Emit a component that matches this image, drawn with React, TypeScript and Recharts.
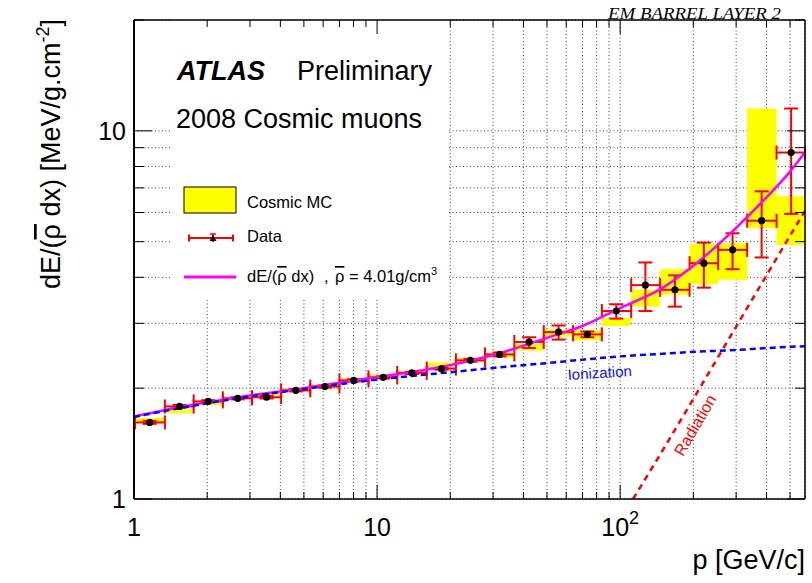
import React from 'react';
import {
  ComposedChart,
  XAxis,
  YAxis,
  CartesianGrid,
  Scatter,
  ErrorBar,
  Line,
  ReferenceArea,
} from 'recharts';

const FONT = '"Liberation Sans", Arial, Helvetica, sans-serif';

// ---- data ----
const binLow = [1.01, 1.34, 1.76, 2.32, 3.06, 4.03, 5.31, 7.0, 9.22, 12.1, 16.0, 21.1, 27.8, 36.7, 48.5, 64.0, 84.1, 111, 146, 193, 253, 333, 440];
const binHigh = [1.34, 1.76, 2.32, 3.06, 4.03, 5.31, 7.0, 9.22, 12.1, 16.0, 21.1, 27.8, 36.7, 48.5, 64.0, 84.1, 111, 146, 193, 253, 333, 440, 576];
const pCenter = [1.16, 1.54, 2.02, 2.67, 3.51, 4.63, 6.1, 8.02, 10.6, 13.9, 18.4, 24.2, 31.9, 42.2, 55.8, 73.3, 96.4, 127, 168, 221, 290, 382, 505];
const dataV = [1.614, 1.784, 1.841, 1.877, 1.89, 1.973, 2.02, 2.1, 2.14, 2.2, 2.26, 2.38, 2.47, 2.67, 2.84, 2.8, 3.24, 3.81, 3.7, 4.37, 4.75, 5.7, 8.73];
const dataLo = [1.6, 1.77, 1.83, 1.865, 1.875, 1.96, 2.005, 2.085, 2.125, 2.185, 2.245, 2.36, 2.44, 2.57, 2.71, 2.75, 3.09, 3.24, 3.33, 3.75, 4.21, 4.53, 5.95];
const dataHi = [1.63, 1.8, 1.855, 1.89, 1.905, 1.99, 2.035, 2.115, 2.155, 2.215, 2.275, 2.4, 2.5, 2.75, 2.96, 2.85, 3.38, 4.39, 4.05, 4.97, 5.27, 6.85, 11.5];
const mcLo = [1.61, 1.71, 1.8, 1.87, 1.91, 1.96, 2.01, 2.09, 2.14, 2.19, 2.3, 2.36, 2.42, 2.53, 2.76, 2.7, 2.95, 3.33, 3.59, 3.83, 3.94, 5.44, 4.9];
const mcHi = [1.66, 1.75, 1.84, 1.9, 1.94, 2.0, 2.05, 2.13, 2.18, 2.23, 2.35, 2.42, 2.49, 2.64, 2.89, 2.88, 3.1, 3.7, 4.21, 4.93, 4.95, 11.5, 6.64];

const fitP = [1, 1.5, 2, 3, 5, 7, 10, 15, 20, 30, 50, 70, 100, 150, 200, 300, 400, 500, 576];
const fitV = [1.675, 1.77, 1.83, 1.91, 2.0, 2.07, 2.145, 2.23, 2.31, 2.46, 2.74, 2.95, 3.3, 3.75, 4.3, 5.45, 6.6, 7.75, 8.75];
const ionP = [1, 1.5, 2, 3, 5, 7, 10, 15, 20, 30, 50, 70, 100, 150, 200, 300, 400, 500, 576];
const ionV = [1.67, 1.76, 1.82, 1.9, 1.99, 2.05, 2.11, 2.17, 2.21, 2.27, 2.34, 2.39, 2.44, 2.48, 2.51, 2.54, 2.57, 2.59, 2.6];
const radP = [113, 150, 200, 300, 400, 500, 576];
const radV = [1.0, 1.36, 1.87, 2.94, 4.05, 5.19, 6.06];

const xTicks = [1, 2, 3, 4, 5, 6, 7, 8, 9, 10, 20, 30, 40, 50, 60, 70, 80, 90, 100, 200, 300, 400, 500];
const yTicks = [1, 2, 3, 4, 5, 6, 7, 8, 9, 10, 20];
const xDomain: [number, number] = [1, 576];
const yDomain: [number, number] = [1, 20];

const isDecade = (v: number) => v === 1 || v === 10 || v === 100;

function BottomTick(props: any) {
  const { x, y, payload } = props;
  const v = payload.value;
  const len = isDecade(v) ? 14 : 7;
  let label: any = null;
  const common = { textAnchor: 'middle' as const, fontFamily: FONT, fontSize: 25, fill: '#000' };
  if (v === 1) label = <text x={x} y={y + 37} {...common}>1</text>;
  if (v === 10) label = <text x={x} y={y + 37} {...common}>10</text>;
  if (v === 100)
    label = (
      <text x={x} y={y + 37} {...common}>
        10<tspan dy={-12} fontSize={18}>2</tspan>
      </text>
    );
  return (
    <g>
      <line x1={x} x2={x} y1={y} y2={y - len} stroke="#000" strokeWidth={1} />
      {label}
    </g>
  );
}

function TopTick(props: any) {
  const { x, y, payload } = props;
  const len = isDecade(payload.value) ? 14 : 7;
  return <line x1={x} x2={x} y1={y} y2={y + len} stroke="#000" strokeWidth={1} />;
}

function LeftTick(props: any) {
  const { x, y, payload } = props;
  const v = payload.value;
  const len = isDecade(v) ? 18 : 10;
  const label =
    v === 1 || v === 10 ? (
      <text x={x - 8} y={y + 9} textAnchor="end" fontFamily={FONT} fontSize={25} fill="#000">
        {String(v)}
      </text>
    ) : null;
  return (
    <g>
      <line x1={x} x2={x + len} y1={y} y2={y} stroke="#000" strokeWidth={1} />
      {label}
    </g>
  );
}

function RightTick(props: any) {
  const { x, y, payload } = props;
  const len = isDecade(payload.value) ? 18 : 10;
  return <line x1={x} x2={x - len} y1={y} y2={y} stroke="#000" strokeWidth={1} />;
}

const Dot = (props: any) => <circle cx={props.cx} cy={props.cy} r={3.6} fill="#000" />;

const Rho = () => <tspan style={{ textDecoration: 'overline' }}>ρ</tspan>;

export default function App() {
  const pts = pCenter.map((p, i) => ({
    p,
    v: dataV[i],
    ex: [p - binLow[i], binHigh[i] - p],
    ey: [dataV[i] - dataLo[i], dataHi[i] - dataV[i]],
  }));
  const fit = fitP.map((p, i) => ({ p, v: fitV[i] }));
  const ion = ionP.map((p, i) => ({ p, v: ionV[i] }));
  const rad = radP.map((p, i) => ({ p, v: radV[i] }));

  const axisCommon = {
    type: 'number' as const,
    scale: 'log' as const,
    allowDataOverflow: true,
    interval: 0 as const,
    tickSize: 0,
    tickMargin: 0,
    tickLine: false,
  };

  return (
    <div style={{ position: 'absolute', left: 0, top: 0, width: 812, height: 583, background: '#fff' }}>
      <ComposedChart width={812} height={583} margin={{ top: 19, right: 6, bottom: 83, left: 133 }}>
        <CartesianGrid stroke="#444" strokeDasharray="1 2.5" strokeWidth={1} />
        <XAxis
          {...axisCommon}
          dataKey="p"
          domain={xDomain}
          ticks={xTicks}
          height={1}
          axisLine={{ stroke: '#000', strokeWidth: 1.5 }}
          tick={(p: any) => <BottomTick {...p} />}
        />
        <XAxis
          {...axisCommon}
          xAxisId="top"
          orientation="top"
          dataKey="p"
          domain={xDomain}
          ticks={xTicks}
          height={1}
          axisLine={{ stroke: '#000', strokeWidth: 1.5 }}
          tick={(p: any) => <TopTick {...p} />}
        />
        <YAxis
          {...axisCommon}
          domain={yDomain}
          ticks={yTicks}
          width={1}
          axisLine={{ stroke: '#000', strokeWidth: 2 }}
          tick={(p: any) => <LeftTick {...p} />}
        />
        <YAxis
          {...axisCommon}
          yAxisId="right"
          orientation="right"
          domain={yDomain}
          ticks={yTicks}
          width={1}
          axisLine={{ stroke: '#000', strokeWidth: 1.5 }}
          tick={(p: any) => <RightTick {...p} />}
        />
        <ReferenceArea x1={1.42} x2={19.7} y1={3.49} y2={20} fill="#fff" fillOpacity={1} stroke="none" />
        {pCenter.map((p, i) => (
          <ReferenceArea
            key={'mc' + i}
            x1={binLow[i]}
            x2={binHigh[i]}
            y1={mcLo[i]}
            y2={mcHi[i]}
            fill="#ffff00"
            fillOpacity={1}
            stroke="none"
          />
        ))}
        <Scatter data={pts} dataKey="v" shape={Dot} isAnimationActive={false}>
          <ErrorBar dataKey="ex" direction="x" stroke="#ff0000" strokeWidth={2} width={7} isAnimationActive={false} />
          <ErrorBar dataKey="ey" direction="y" stroke="#ff0000" strokeWidth={2} width={7} isAnimationActive={false} />
        </Scatter>
        <Line data={fit} dataKey="v" type="monotone" stroke="#ff00ff" strokeWidth={2.5} dot={false} isAnimationActive={false} />
        <Line data={ion} dataKey="v" type="monotone" stroke="#0000ff" strokeWidth={2.5} strokeDasharray="6 4" dot={false} isAnimationActive={false} />
        <Line data={rad} dataKey="v" type="monotone" stroke="#ff0000" strokeWidth={2.5} strokeDasharray="6 5" dot={false} isAnimationActive={false} />
      </ComposedChart>

      <svg
        width={812}
        height={583}
        style={{ position: 'absolute', left: 0, top: 0, pointerEvents: 'none' }}
        fontFamily={FONT}
      >
        <text x={781} y={19} textAnchor="end" fontFamily='"Liberation Serif", "Times New Roman", serif' fontStyle="italic" fontSize={16} textLength={173} lengthAdjust="spacingAndGlyphs">
          EM BARREL LAYER 2
        </text>
        <text x={177} y={80} fontSize={27} fontWeight="bold" fontStyle="italic">ATLAS</text>
        <text x={297} y={80} fontSize={27}>Preliminary</text>
        <text x={176} y={128} fontSize={27}>2008 Cosmic muons</text>

        {/* legend */}
        <rect x={184} y={187} width={52} height={26} fill="#ffff00" stroke="#000" strokeWidth={1} />
        <text x={247} y={208} fontSize={16.5}>Cosmic MC</text>
        <line x1={189} x2={233} y1={238} y2={238} stroke="#ff0000" strokeWidth={2} />
        <line x1={189} x2={189} y1={234.5} y2={241.5} stroke="#ff0000" strokeWidth={2} />
        <line x1={233} x2={233} y1={234.5} y2={241.5} stroke="#ff0000" strokeWidth={2} />
        <line x1={213} x2={213} y1={234} y2={242} stroke="#ff0000" strokeWidth={2} />
        <line x1={210} x2={216} y1={234} y2={234} stroke="#ff0000" strokeWidth={1.5} />
        <polygon points="209.5,241 216.5,241 213,235" fill="#000" />
        <text x={247} y={242} fontSize={16.5}>Data</text>
        <line x1={184} x2={236} y1={277} y2={277} stroke="#ff00ff" strokeWidth={3} />
        <text x={247} y={282} fontSize={16.5}>
          dE/(<Rho /> dx)
        </text>
        <text x={324} y={282} fontSize={16.5}>,</text>
        <text x={335} y={282} fontSize={16.5}>
          <Rho />
          {' = 4.01g/cm'}
          <tspan dy={-7} fontSize={11}>3</tspan>
        </text>

        {/* curve labels */}
        <text x={600} y={378} textAnchor="middle" fontSize={15} fill="#1010ff" transform="rotate(-3.5 600 378)">
          Ionization
        </text>
        <text x={700} y={428} textAnchor="middle" fontSize={16} fill="#ff0000" transform="rotate(-60 700 428)">
          Radiation
        </text>

        {/* axis titles */}
        <text x={805} y={569} textAnchor="end" fontSize={27}>p [GeV/c]</text>
        <text x={60} y={19} textAnchor="end" fontSize={27} transform="rotate(-90 60 19)">
          dE/(<Rho /> dx) [MeV/g.cm
          <tspan dy={-11} fontSize={18}>-2</tspan>
          <tspan dy={11}>]</tspan>
        </text>
      </svg>
    </div>
  );
}
